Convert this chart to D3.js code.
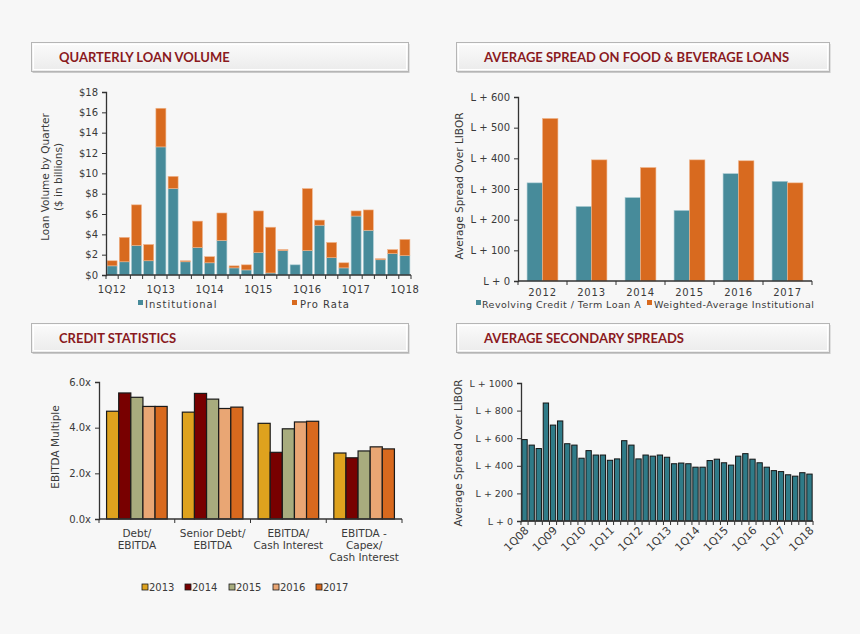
<!DOCTYPE html>
<html><head><meta charset="utf-8">
<script src="https://cdn.jsdelivr.net/npm/d3@7"></script>
<style>
html,body{margin:0;padding:0;background:#f7f7f7;}
svg{display:block;}
text{font-family:"DejaVu Sans",sans-serif;fill:#3a3a3a;}
.title{font-family:Lato,"DejaVu Sans",sans-serif;font-weight:bold;font-size:13px;fill:#8a1a1e;}
</style></head>
<body>
<script>
// ---------- DATA ----------
const loanQuarters = ["1Q12","2Q12","3Q12","4Q12","1Q13","2Q13","3Q13","4Q13","1Q14","2Q14","3Q14","4Q14","1Q15","2Q15","3Q15","4Q15","1Q16","2Q16","3Q16","4Q16","1Q17","2Q17","3Q17","4Q17","1Q18"];
const institutional = [0.9,1.3,2.9,1.4,12.6,8.5,1.3,2.7,1.2,3.4,0.7,0.5,2.2,0.2,2.4,1.0,2.4,4.9,1.7,0.7,5.8,4.4,1.5,2.1,1.9];
const proRata      = [0.5,2.4,4.0,1.6,3.8,1.2,0.1,2.6,0.6,2.7,0.2,0.5,4.1,4.5,0.1,0.0,6.1,0.5,1.5,0.5,0.5,2.0,0.1,0.4,1.6];
const loanTicks = [0,2,4,6,8,10,12,14,16,18];

const spreadYears = ["2012","2013","2014","2015","2016","2017"];
const revolvingTLA = [320,243,272,230,350,325];
const weightedInst = [530,395,370,395,392,320];
const spreadTicks = [0,100,200,300,400,500,600];

const creditCats = [["Debt/","EBITDA"],["Senior Debt/","EBITDA"],["EBITDA/","Cash Interest"],["EBITDA -","Capex/","Cash Interest"]];
const creditYears = ["2013","2014","2015","2016","2017"];
const credit2013 = [4.72,4.68,4.19,2.89];
const credit2014 = [5.52,5.50,2.92,2.68];
const credit2015 = [5.33,5.25,3.95,2.98];
const credit2016 = [4.93,4.84,4.25,3.16];
const credit2017 = [4.93,4.90,4.28,3.07];
const creditTicks = [0,2,4,6];

const secQuarters = ["1Q08","2Q08","3Q08","4Q08","1Q09","2Q09","3Q09","4Q09","1Q10","2Q10","3Q10","4Q10","1Q11","2Q11","3Q11","4Q11","1Q12","2Q12","3Q12","4Q12","1Q13","2Q13","3Q13","4Q13","1Q14","2Q14","3Q14","4Q14","1Q15","2Q15","3Q15","4Q15","1Q16","2Q16","3Q16","4Q16","1Q17","2Q17","3Q17","4Q17","1Q18"];
const secSpreads = [590,550,525,855,695,725,560,550,455,510,478,478,440,450,582,550,450,478,470,478,462,415,420,415,390,390,438,448,422,405,470,488,448,422,390,365,358,335,325,350,340];
const secTicks = [0,200,400,600,800,1000];

// ---------- STYLE ----------
const TEAL = "#478b9a", ORANGE = "#d86a1f", DTEAL = "#2f7b88";
const creditColors = ["#dea21e","#780000","#a8ac7e","#e9a674","#d8691e"];
const AX = "#333";

const svg = d3.select("body").append("svg").attr("width",860).attr("height",634);
svg.append("rect").attr("width",860).attr("height",634).attr("fill","#f7f7f7");

const defs = svg.append("defs");
const g = defs.append("linearGradient").attr("id","hdr").attr("x1",0).attr("y1",0).attr("x2",0).attr("y2",1);
g.append("stop").attr("offset","0%").attr("stop-color","#fbfbfb");
g.append("stop").attr("offset","100%").attr("stop-color","#ebebeb");

function header(x,y,w,h,label,tx){
  const hg = svg.append("g");
  hg.append("rect").attr("x",x+1).attr("y",y+1.5).attr("width",w).attr("height",h).attr("fill","#c9c9c9");
  hg.append("rect").attr("x",x).attr("y",y).attr("width",w).attr("height",h).attr("fill","url(#hdr)").attr("stroke","#b5b5b5").attr("stroke-width",1);
  hg.append("rect").attr("x",x+2).attr("y",y+2).attr("width",w-4).attr("height",h-4).attr("fill","none").attr("stroke","#ffffff").attr("stroke-width",1);
  hg.append("text").attr("class","title").attr("x",tx).attr("y",y+h/2+5).text(label);
}
header(31.5,42.5,377,29,"QUARTERLY LOAN VOLUME",59);
header(456.5,42.5,373,29,"AVERAGE SPREAD ON FOOD & BEVERAGE LOANS",484);
header(31.5,323.5,377,29,"CREDIT STATISTICS",59);
header(456.5,323.5,373,29,"AVERAGE SECONDARY SPREADS",484);

function yAxis(gp, y, x0, ticks, fmt, fs){
  const a = gp.append("g").attr("transform",`translate(${x0},0)`)
    .call(d3.axisLeft(y).tickValues(ticks).tickFormat(fmt).tickSize(4).tickPadding(4));
  a.select(".domain").attr("stroke",AX).attr("stroke-width",1.3);
  a.selectAll(".tick line").attr("stroke",AX);
  a.selectAll("text").attr("font-size",(fs||10)+"px").attr("fill","#3a3a3a").style("font-family","DejaVu Sans");
  return a;
}
function xBaseline(gp, x, y0, tickLen){
  const r = x.range();
  gp.append("line").attr("x1",r[0]).attr("x2",r[1]).attr("y1",y0).attr("y2",y0).attr("stroke",AX).attr("stroke-width",1.3);
  const step = x.step(), off = (step - x.bandwidth())/2;
  const bounds = x.domain().map(d=>x(d)-off).concat([x(x.domain()[x.domain().length-1])+x.bandwidth()+off]);
  gp.selectAll(null).data(bounds).enter().append("line")
    .attr("x1",d=>d).attr("x2",d=>d).attr("y1",y0).attr("y2",y0+tickLen).attr("stroke",AX);
}
function yLabel(x, yc, lines, size){
  const t = svg.append("text").attr("transform",`translate(${x},${yc}) rotate(-90)`).attr("text-anchor","middle").attr("font-size",size+"px").attr("fill","#444");
  t.text(lines);
}

// ---------- PANEL 1 ----------
{
  const p = svg.append("g");
  const x = d3.scaleBand().domain(loanQuarters).range([106,411]).paddingInner(0.18).paddingOuter(0.09);
  const y = d3.scaleLinear().domain([0,18]).range([275,92]);
  p.selectAll(".inst").data(loanQuarters).enter().append("rect")
    .attr("x",d=>x(d)).attr("width",x.bandwidth())
    .attr("y",(d,i)=>y(institutional[i])).attr("height",(d,i)=>y(0)-y(institutional[i]))
    .attr("fill",TEAL).attr("stroke","#a9cbd3").attr("stroke-width",0.6);
  p.selectAll(".pr").data(loanQuarters).enter().append("rect")
    .attr("x",d=>x(d)).attr("width",x.bandwidth())
    .attr("y",(d,i)=>y(institutional[i]+proRata[i])).attr("height",(d,i)=>y(institutional[i])-y(institutional[i]+proRata[i]))
    .attr("fill",ORANGE).attr("stroke","#f0b58c").attr("stroke-width",0.6);
  yAxis(p, y, 106, loanTicks, d=>"$"+d);
  xBaseline(p, x, 275, 4);
  p.selectAll(".xl").data(loanQuarters.filter(d=>d.startsWith("1Q"))).enter().append("text")
    .attr("x",d=>x(d)+x.bandwidth()/2).attr("y",293).attr("text-anchor","middle").attr("font-size","10px").attr("letter-spacing","0.4px").text(d=>d);
  yLabel(49,177,"Loan Volume by Quarter",10.5);
  yLabel(62,177,"($ in billions)",10.5);
  // legend
  p.append("rect").attr("x",138).attr("y",300).attr("width",5).attr("height",5).attr("fill",TEAL);
  p.append("text").attr("x",145).attr("y",308).attr("font-size","10px").attr("letter-spacing","1px").text("Institutional");
  p.append("rect").attr("x",292).attr("y",300).attr("width",5).attr("height",5).attr("fill",ORANGE);
  p.append("text").attr("x",300).attr("y",308).attr("font-size","10px").attr("letter-spacing","1px").text("Pro Rata");
}

// ---------- PANEL 2 ----------
{
  const p = svg.append("g");
  const x = d3.scaleBand().domain(spreadYears).range([518,812]).paddingInner(0.37).paddingOuter(0.185);
  const xs = d3.scaleBand().domain(["a","b"]).range([0,x.bandwidth()]);
  const y = d3.scaleLinear().domain([0,600]).range([281,97]);
  const series = [revolvingTLA, weightedInst], cols=[TEAL,ORANGE], strokes=["#a9cbd3","#f0b58c"];
  series.forEach((s,k)=>{
    p.selectAll(null).data(spreadYears).enter().append("rect")
      .attr("x",d=>x(d)+xs(["a","b"][k])).attr("width",xs.bandwidth())
      .attr("y",(d,i)=>y(s[i])).attr("height",(d,i)=>y(0)-y(s[i]))
      .attr("fill",cols[k]).attr("stroke",strokes[k]).attr("stroke-width",0.6);
  });
  yAxis(p, y, 518, spreadTicks, d=>"L + "+d);
  xBaseline(p, x, 281, 4);
  p.selectAll(".xl").data(spreadYears).enter().append("text")
    .attr("x",d=>x(d)+x.bandwidth()/2).attr("y",296).attr("text-anchor","middle").attr("font-size","10px").attr("letter-spacing","0.8px").text(d=>d);
  yLabel(463,186,"Average Spread Over LIBOR",10.5);
  p.append("rect").attr("x",476).attr("y",300).attr("width",5).attr("height",5).attr("fill",TEAL);
  p.append("text").attr("x",482).attr("y",308).attr("font-size","9.5px").attr("letter-spacing","0.45px").text("Revolving Credit / Term Loan A");
  p.append("rect").attr("x",647).attr("y",300).attr("width",5).attr("height",5).attr("fill",ORANGE);
  p.append("text").attr("x",654).attr("y",308).attr("font-size","9.5px").attr("letter-spacing","0.45px").text("Weighted-Average Institutional");
}

// ---------- PANEL 3 ----------
{
  const p = svg.append("g");
  const keys = creditCats.map(d=>d.join(" "));
  const x = d3.scaleBand().domain(keys).range([99,402]).paddingInner(0.2).paddingOuter(0.1);
  const xs = d3.scaleBand().domain(creditYears).range([0,x.bandwidth()]);
  const y = d3.scaleLinear().domain([0,6]).range([519,382]);
  const series = [credit2013,credit2014,credit2015,credit2016,credit2017];
  series.forEach((s,k)=>{
    p.selectAll(null).data(keys).enter().append("rect")
      .attr("x",d=>x(d)+xs(creditYears[k])).attr("width",xs.bandwidth())
      .attr("y",(d,i)=>y(s[i])).attr("height",(d,i)=>y(0)-y(s[i]))
      .attr("fill",creditColors[k]).attr("stroke","#1a1a1a").attr("stroke-width",1.2);
  });
  yAxis(p, y, 99, creditTicks, d=>d3.format(".1f")(d)+"x");
  xBaseline(p, x, 519, 4);
  creditCats.forEach((lines,i)=>{
    const t = p.append("text").attr("text-anchor","middle").attr("font-size","10.5px");
    lines.forEach((ln,j)=>t.append("tspan").attr("x",x(keys[i])+x.bandwidth()/2).attr("y",537+j*12).text(ln));
  });
  yLabel(59,447,"EBITDA Multiple",10.5);
  const lx = [142,185,229,273,316];
  creditYears.forEach((yr,k)=>{
    p.append("rect").attr("x",lx[k]).attr("y",584).attr("width",6).attr("height",6).attr("fill",creditColors[k]).attr("stroke","#1a1a1a").attr("stroke-width",0.8);
    p.append("text").attr("x",lx[k]+7).attr("y",591).attr("font-size","10px").text(yr);
  });
}

// ---------- PANEL 4 ----------
{
  const p = svg.append("g");
  const x = d3.scaleBand().domain(secQuarters).range([521,813]).paddingInner(0.25).paddingOuter(0.12);
  const y = d3.scaleLinear().domain([0,1000]).range([521,383]);
  p.selectAll(".b").data(secQuarters).enter().append("rect")
    .attr("x",d=>x(d)).attr("width",x.bandwidth())
    .attr("y",(d,i)=>y(secSpreads[i])).attr("height",(d,i)=>y(0)-y(secSpreads[i]))
    .attr("fill",DTEAL).attr("stroke","#151515").attr("stroke-width",1);
  yAxis(p, y, 521, secTicks, d=>"L + "+d, 9.5);
  xBaseline(p, x, 521, 4);
  p.selectAll(".xl").data(secQuarters.filter(d=>d.startsWith("1Q"))).enter().append("text")
    .attr("transform",d=>`translate(${x(d)+x.bandwidth()/2+5},${531}) rotate(-45)`)
    .attr("text-anchor","end").attr("font-size","11px").text(d=>d);
  yLabel(462,453,"Average Spread Over LIBOR",10.5);
}
</script>
</body></html>
